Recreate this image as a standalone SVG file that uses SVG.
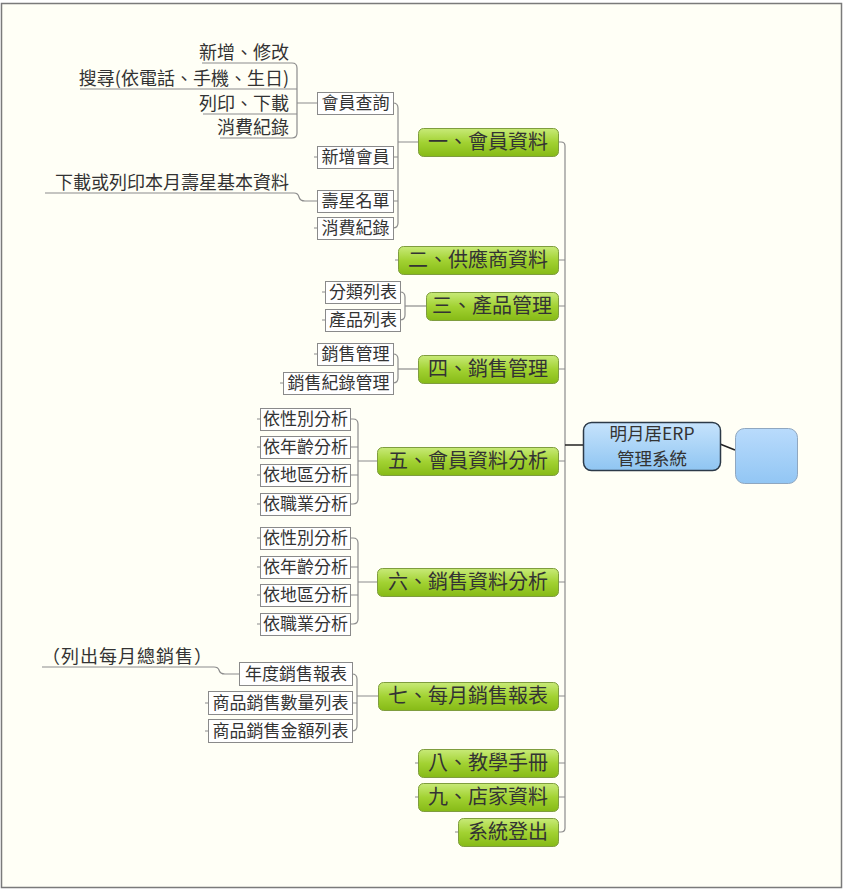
<svg xmlns="http://www.w3.org/2000/svg" width="843" height="892" viewBox="0 0 843 892">
<defs>
<linearGradient id="gGreen" x1="0" y1="0" x2="0" y2="1">
<stop offset="0" stop-color="#c8ea78"/>
<stop offset="0.5" stop-color="#a2d232"/>
<stop offset="1" stop-color="#86ba16"/>
</linearGradient>
<linearGradient id="gBlue" x1="0" y1="0" x2="0" y2="1">
<stop offset="0" stop-color="#c6e3fc"/>
<stop offset="1" stop-color="#8fc5f2"/>
</linearGradient>
<linearGradient id="gBlue2" x1="0" y1="0" x2="0" y2="1">
<stop offset="0" stop-color="#b9dbfc"/>
<stop offset="1" stop-color="#92c6f4"/>
</linearGradient>
<style>
text{font-family:"Noto Sans CJK TC","Noto Sans CJK SC",sans-serif;fill:#333333}
.g rect{fill:url(#gGreen);stroke:#7f9d3e;stroke-width:1}
.g text{font-size:20px;text-anchor:middle}
.b rect{fill:#ffffff;stroke:#8a8a8a;stroke-width:1}
.b text{font-size:17px;text-anchor:middle}
.f text{font-size:18px;text-anchor:end}
#connectors path{fill:none;stroke:#8c8c8c;stroke-width:1.2}
#connectors path.dark{stroke:#222;stroke-width:1.5}
</style>
</defs>
<rect x="0" y="0" width="843" height="892" fill="#ffffff"/>
<rect x="1.5" y="3.5" width="840" height="884" fill="#fffff6" stroke="#7a7a7a" stroke-width="1.5"/>

<g id="connectors">
<path d="M558,142 H561 Q565,142 565,146 V828 Q565,832 561,832 H558"/>
<path d="M558,260 H565 M558,306 H565 M558,369 H565 M558,461 H565 M558,582 H565 M558,696 H565 M558,763 H565 M558,797 H565"/>
<path class="dark" d="M565,445 H584"/>
<path class="dark" d="M720,444 L735,450"/>
<path d="M393,103 Q398,103 398,108 V223 Q398,228 393,228"/>
<path d="M393,157 H398 M393,201 H398 M398,142 H418"/>
<path d="M202,63 H292 Q297,63 297,68 V133 Q297,138 292,138 H220"/>
<path d="M80,89 H297 M203,114 H297 M297,103 H317"/>
<path d="M45,193 H294 Q298,193 299,197 Q300,201 305,201 H317"/>
<path d="M400,292 Q405,292 405,297 V315 Q405,320 400,320"/>
<path d="M405,306 H426"/>
<path d="M393,354 Q398,354 398,359 V378 Q398,383 393,383"/>
<path d="M398,369 H418"/>
<path d="M350,419 H353 Q358,419 358,424 V499 Q358,504 353,504 H350"/>
<path d="M350,447 H358 M350,475 H358 M358,461 H377"/>
<path d="M350,538 H353 Q358,538 358,543 V619 Q358,624 353,624 H350"/>
<path d="M350,567 H358 M350,595 H358 M358,582 H377"/>
<path d="M352,674 Q357,674 357,679 V726 Q357,731 352,731"/>
<path d="M352,703 H357 M357,696 H378"/>
<path d="M42,667 H214 Q218,667 219,670 Q220,674 225,674 H239"/>
<path d="M314,157 H317 M314,228 H317 M322,292 H325 M322,320 H325 M314,354 H317 M280,383 H283"/>
<path d="M257,419 H260 M257,447 H260 M257,475 H260 M257,504 H260 M257,538 H260 M257,567 H260 M257,595 H260 M257,624 H260"/>
<path d="M205,703 H208 M205,731 H208 M395,260 H398 M415,763 H418 M415,797 H418 M455,832 H458"/>
</g>

<g id="root">
<rect x="583.5" y="422.5" width="137" height="48" rx="8" fill="url(#gBlue)" stroke="#2c3a48" stroke-width="1.5"/>
<text x="652" y="439.5" font-size="17.5" text-anchor="middle">明月居ERP</text>
<text x="652" y="465" font-size="17.5" text-anchor="middle">管理系統</text>
</g>
<g id="blank">
<rect x="735.5" y="428.5" width="62" height="55" rx="9" fill="url(#gBlue2)" stroke="#8fa7c0" stroke-width="1"/>
</g>

<g id="n1" class="g"><rect x="418.5" y="128.5" width="140" height="28" rx="5"/><text x="488" y="149">一、會員資料</text></g>
<g id="n2" class="g"><rect x="398.5" y="246.5" width="160" height="28" rx="5"/><text x="478" y="267">二、供應商資料</text></g>
<g id="n3" class="g"><rect x="426.5" y="292.5" width="132" height="28" rx="5"/><text x="492" y="313">三、產品管理</text></g>
<g id="n4" class="g"><rect x="418.5" y="355.5" width="140" height="28" rx="5"/><text x="488" y="376">四、銷售管理</text></g>
<g id="n5" class="g"><rect x="377.5" y="447.5" width="181" height="28" rx="5"/><text x="468" y="468">五、會員資料分析</text></g>
<g id="n6" class="g"><rect x="377.5" y="568.5" width="181" height="28" rx="5"/><text x="468" y="589">六、銷售資料分析</text></g>
<g id="n7" class="g"><rect x="378.5" y="682.5" width="180" height="28" rx="5"/><text x="468" y="703">七、每月銷售報表</text></g>
<g id="n8" class="g"><rect x="418.5" y="749.5" width="140" height="28" rx="5"/><text x="488" y="770">八、教學手冊</text></g>
<g id="n9" class="g"><rect x="418.5" y="783.5" width="140" height="28" rx="5"/><text x="488" y="804">九、店家資料</text></g>
<g id="n10" class="g"><rect x="458.5" y="818.5" width="100" height="28" rx="5"/><text x="508" y="839">系統登出</text></g>

<g id="n1a" class="b"><rect x="317.5" y="92.5" width="76" height="22"/><text x="355.5" y="109">會員查詢</text></g>
<g id="n1b" class="b"><rect x="317.5" y="146.5" width="76" height="22"/><text x="355.5" y="163">新增會員</text></g>
<g id="n1c" class="b"><rect x="317.5" y="190.5" width="76" height="22"/><text x="355.5" y="207">壽星名單</text></g>
<g id="n1d" class="b"><rect x="317.5" y="217.5" width="76" height="22"/><text x="355.5" y="234">消費紀錄</text></g>

<g id="n1a1" class="f"><text x="289" y="59">新增、修改</text></g>
<g id="n1a2" class="f"><text x="289" y="85">搜尋(依電話、手機、生日)</text></g>
<g id="n1a3" class="f"><text x="289" y="110">列印、下載</text></g>
<g id="n1a4" class="f"><text x="289" y="134">消費紀錄</text></g>
<g id="n1c1" class="f"><text x="289" y="189">下載或列印本月壽星基本資料</text></g>

<g id="n3a" class="b"><rect x="325.5" y="281.5" width="75" height="22"/><text x="363" y="298">分類列表</text></g>
<g id="n3b" class="b"><rect x="325.5" y="309.5" width="75" height="22"/><text x="363" y="326">產品列表</text></g>

<g id="n4a" class="b"><rect x="317.5" y="343.5" width="76" height="22"/><text x="355.5" y="360">銷售管理</text></g>
<g id="n4b" class="b"><rect x="283.5" y="372.5" width="110" height="22"/><text x="338.5" y="389">銷售紀錄管理</text></g>

<g id="n5a" class="b"><rect x="260.5" y="408.5" width="90" height="22"/><text x="305.5" y="425">依性別分析</text></g>
<g id="n5b" class="b"><rect x="260.5" y="436.5" width="90" height="22"/><text x="305.5" y="453">依年齡分析</text></g>
<g id="n5c" class="b"><rect x="260.5" y="464.5" width="90" height="22"/><text x="305.5" y="481">依地區分析</text></g>
<g id="n5d" class="b"><rect x="260.5" y="493.5" width="90" height="22"/><text x="305.5" y="510">依職業分析</text></g>

<g id="n6a" class="b"><rect x="260.5" y="527.5" width="90" height="22"/><text x="305.5" y="544">依性別分析</text></g>
<g id="n6b" class="b"><rect x="260.5" y="556.5" width="90" height="22"/><text x="305.5" y="573">依年齡分析</text></g>
<g id="n6c" class="b"><rect x="260.5" y="584.5" width="90" height="22"/><text x="305.5" y="601">依地區分析</text></g>
<g id="n6d" class="b"><rect x="260.5" y="613.5" width="90" height="22"/><text x="305.5" y="630">依職業分析</text></g>

<g id="n7a" class="b"><rect x="239.5" y="662.5" width="113" height="23"/><text x="296" y="680">年度銷售報表</text></g>
<g id="n7b" class="b"><rect x="208.5" y="691.5" width="144" height="23"/><text x="280.5" y="709">商品銷售數量列表</text></g>
<g id="n7c" class="b"><rect x="208.5" y="719.5" width="144" height="23"/><text x="280.5" y="737">商品銷售金額列表</text></g>
<g id="n7a1" class="f"><text x="212" y="663" textLength="170" lengthAdjust="spacing">（列出每月總銷售）</text></g>
</svg>
